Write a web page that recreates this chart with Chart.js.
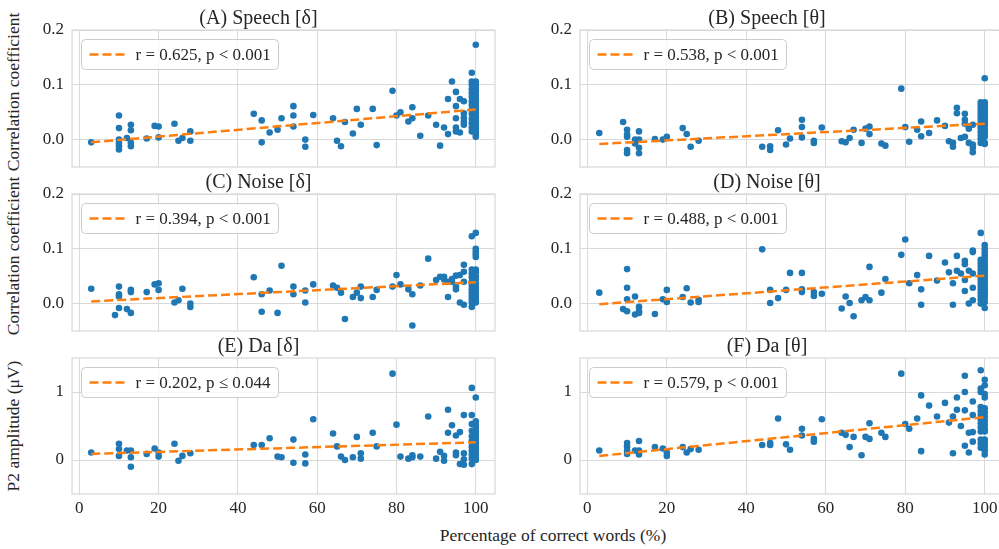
<!DOCTYPE html>
<html>
<head>
<meta charset="utf-8">
<title>P2 amplitude and envelope tracking vs. speech intelligibility</title>
<script src="https://cdn.jsdelivr.net/npm/chart.js@4.4.0/dist/chart.umd.min.js"></script>
<style>
  html, body { margin: 0; padding: 0; background: #fff; }
  #fig { position: relative; width: 999px; height: 549px; overflow: hidden; background: #fff;
         font-family: 'Liberation Serif', 'Times New Roman', serif; color: #262626; }
  #fig canvas { position: absolute; }
  .axlabel { position: absolute; white-space: nowrap; font-size: 17.5px; line-height: 1;
             transform: translate(-50%, -50%); }
  .axlabel.rot { transform: translate(-50%, -50%) rotate(-90deg); }
</style>
</head>
<body>
<div id="fig">
  <div class="axlabel rot" style="left:14px; top:92px;">Correlation coefficient</div>
  <div class="axlabel rot" style="left:14px; top:256px;">Correlation coefficient</div>
  <div class="axlabel rot" style="left:14px; top:426px;">P2 amplitude (μV)</div>
  <div class="axlabel" style="left:553px; top:536px;">Percentage of correct words (%)</div>
</div>
<script>
// ---- axis ticks and ranges ----
const xTicks = [0, 20, 40, 60, 80, 100];
const corrTicks = [0, 0.1, 0.2];
const ampTicks = [0, 1];
const xRange = [-1.85, 104.85];
const corrRange = [-0.05, 0.2];
const ampRange = [-0.5, 1.5];

// ---- regression line end points, at x = 3 and x = 100 ----
const fitX = [3, 100];
const speechDeltaFit = [-0.005, 0.055];
const speechThetaFit = [-0.008, 0.029];
const noiseDeltaFit = [0.004, 0.039];
const noiseThetaFit = [-0.001, 0.051];
const daDeltaFit = [0.09, 0.26];
const daThetaFit = [0.06, 0.63];

// ---- per-subject values: [percentage of correct words, measure] ----
const speechDelta = [
  [3,-0.005],
  [10,0.044],[10,0.021],[10,0.0],[10,-0.006],[10,-0.012],[10,-0.018],
  [12,0.003],
  [13,0.027],[13,0.017],[13,-0.006],[13,-0.012],
  [17,0.002],[19,0.025],[20,0.024],[20,0.004],[24,0.029],[25,-0.002],[26,0.003],[28,0.015],[28,-0.002],
  [44,0.047],[46,0.035],[46,-0.005],[48,0.013],[50,0.018],[51,0.039],
  [54,0.061],[54,0.044],[54,0.024],[57,0.0],[57,-0.013],[59,0.045],
  [64,0.039],[65,-0.002],[66,-0.012],[67,0.032],[69,0.011],[70,0.056],[71,0.027],[74,0.056],[75,-0.01],
  [79,0.089],[80,0.044],[81,0.05],[83,0.033],[84,0.059],[84,0.039],[86,0.007],[88,0.044],
  [90,0.027],[91,-0.011],[92,0.022],[93,0.074],[93,0.01],[94,0.106],
  [95,0.087],[95,0.061],[95,0.039],[95,0.022],[95,0.015],
  [96,0.074],[96,0.013],
  [97,0.07],[97,0.048],[97,0.04],[97,0.033],[97,0.027],
  [99,0.122],[99,0.106],[99,0.1],[99,0.092],[99,0.085],[99,0.078],[99,0.07],[99,0.063],[99,0.055],[99,0.047],[99,0.038],[99,0.03],[99,0.022],[99,0.015],
  [100,0.173],[100,0.106],[100,0.1],[100,0.095],[100,0.09],[100,0.085],[100,0.08],[100,0.075],[100,0.07],[100,0.065],[100,0.06],
  [100,0.055],[100,0.05],[100,0.045],[100,0.04],[100,0.035],[100,0.03],[100,0.025],[100,0.02],[100,0.015],[100,0.01],[100,0.005]
];

const speechTheta = [
  [3,0.012],[9,0.032],
  [10,0.018],[10,0.009],[10,0.005],[10,-0.019],[10,-0.025],
  [12,0.0],[12,-0.007],
  [13,0.015],[13,0.0],[13,-0.015],[13,-0.025],
  [17,0.001],[19,0.0],[20,0.005],[24,0.021],[25,0.01],[26,-0.013],[28,-0.002],
  [44,-0.013],[46,-0.012],[46,-0.019],[48,0.017],[50,-0.009],[51,0.002],
  [54,0.036],[54,0.023],[54,0.004],[57,-0.002],[57,-0.006],[59,0.022],
  [64,-0.003],[65,-0.005],[66,0.003],[67,0.018],[69,-0.006],[70,0.02],[71,0.024],[71,0.01],[74,-0.007],[75,-0.011],
  [79,0.093],[80,0.023],[81,-0.004],[83,0.018],[84,0.033],[84,0.006],[86,0.012],[88,0.035],
  [90,0.025],[91,-0.003],[92,-0.006],[92,-0.013],[93,0.058],[93,0.048],[94,0.003],
  [95,0.047],[95,0.036],[95,0.029],[95,0.005],
  [96,0.024],[96,0.02],[96,-0.006],
  [97,0.027],[97,-0.009],[97,-0.015],[97,-0.023],
  [99,0.068],[99,0.063],[99,0.058],[99,0.052],[99,0.047],[99,0.042],[99,0.036],[99,0.03],[99,0.025],[99,0.02],[99,0.014],[99,0.008],[99,0.002],[99,-0.006],
  [100,0.112],[100,0.068],[100,0.064],[100,0.06],[100,0.055],[100,0.05],[100,0.045],[100,0.04],[100,0.035],
  [100,0.03],[100,0.026],[100,0.02],[100,0.015],[100,0.01],[100,0.005],[100,-0.006],[100,-0.008]
];

const noiseDelta = [
  [3,0.027],[9,-0.021],
  [10,0.031],[10,0.017],[10,0.013],[10,-0.008],
  [12,-0.01],
  [13,0.025],[13,0.021],[13,-0.017],
  [17,0.021],[19,0.035],[20,0.037],[20,0.025],[24,0.002],[25,0.006],[26,0.027],[28,0.0],[28,-0.006],
  [44,0.048],[46,0.017],[46,-0.015],[48,0.024],[50,-0.017],[51,0.069],
  [54,0.031],[54,0.017],[57,0.024],[57,0.002],[59,0.035],
  [64,0.033],[65,0.029],[66,0.02],[67,-0.028],[69,0.012],[70,0.02],[71,0.031],[71,0.01],[74,0.012],[75,0.025],
  [79,0.031],[80,0.052],[81,0.035],[83,0.026],[84,0.017],[84,-0.04],[86,0.033],[88,0.082],
  [90,0.043],[91,0.049],[92,0.049],[92,0.044],[93,0.04],[93,0.012],[94,0.045],[94,0.04],
  [95,0.051],[95,0.031],[95,0.026],
  [96,0.052],[96,0.002],
  [97,0.071],[97,0.058],[97,0.04],[97,-0.002],
  [99,0.123],[99,0.062],[99,0.055],[99,0.048],[99,0.04],[99,0.033],[99,0.026],[99,0.02],[99,0.014],[99,0.008],[99,0.002],[99,-0.006],
  [100,0.129],[100,0.1],[100,0.095],[100,0.09],[100,0.085],[100,0.062],[100,0.057],[100,0.05],
  [100,0.044],[100,0.036],[100,0.03],[100,0.024],[100,0.018],[100,0.012],[100,0.006],[100,0.002]
];

const noiseTheta = [
  [3,0.02],[9,-0.01],
  [10,0.063],[10,0.029],[10,0.008],[10,-0.014],
  [12,0.013],[12,-0.02],
  [13,-0.006],[13,-0.014],[13,-0.017],
  [17,-0.019],[19,0.008],[20,0.025],[20,0.003],[24,0.012],[25,0.028],[26,0.002],[28,0.007],[28,0.003],
  [44,0.099],[46,0.025],[46,0.001],[48,0.01],[50,0.025],[51,0.056],
  [54,0.056],[54,0.026],[54,0.021],[57,0.021],[57,0.014],[59,0.018],
  [64,-0.009],[65,0.013],[66,0.001],[67,-0.023],[69,0.006],[70,0.012],[71,0.067],[71,0.006],[74,0.02],[75,0.045],
  [79,0.089],[80,0.117],[81,0.037],[83,0.052],[84,0.026],[84,-0.002],[86,0.087],[88,0.042],
  [90,0.075],[91,0.057],[92,0.037],[92,-0.002],[93,0.087],[93,0.06],[94,0.055],
  [95,0.078],[95,0.072],[95,0.043],[95,0.023],
  [96,0.06],[96,0.0],
  [97,0.097],[97,0.094],[97,0.055],[97,0.029],[97,0.006],
  [99,0.129],[99,0.08],[99,0.074],[99,0.068],[99,0.062],[99,0.056],[99,0.05],[99,0.044],[99,0.038],[99,0.032],[99,0.026],[99,0.02],[99,0.014],[99,0.008],[99,0.0],
  [100,0.107],[100,0.1],[100,0.094],[100,0.088],[100,0.082],[100,0.076],[100,0.07],[100,0.064],[100,0.058],[100,0.052],
  [100,0.046],[100,0.04],[100,0.034],[100,0.028],[100,0.022],[100,0.016],[100,0.01],[100,0.003],[100,-0.008]
];

const daDelta = [
  [3,0.11],
  [10,0.24],[10,0.16],[10,0.06],
  [12,0.14],
  [13,0.14],[13,0.04],[13,-0.1],
  [17,0.09],[19,0.17],[20,0.11],[20,0.05],[24,0.24],[25,-0.01],[26,0.06],[28,0.1],
  [44,0.22],[46,0.22],[48,0.32],[50,0.05],[51,0.04],
  [54,0.3],[54,-0.04],[57,0.08],[57,-0.05],[59,0.6],
  [64,0.39],[65,0.2],[66,0.05],[67,0.0],[69,0.04],[70,0.34],[71,0.1],[71,0.02],[74,0.4],[75,0.2],
  [79,1.27],[80,0.52],[81,0.05],[83,0.02],[84,0.07],[84,0.04],[86,0.05],[88,0.64],
  [90,0.02],[91,0.12],[92,0.06],[92,-0.01],[93,0.74],[93,0.4],[94,0.51],
  [95,0.36],[95,0.11],[95,0.07],
  [96,0.41],[96,-0.06],
  [97,0.66],[97,0.1],[97,0.01],[97,-0.07],
  [99,1.06],[99,0.66],[99,0.53],[99,0.43],[99,0.35],[99,0.28],[99,0.2],[99,0.14],[99,0.08],[99,0.02],[99,-0.06],
  [100,0.92],[100,0.57],[100,0.52],[100,0.47],[100,0.42],[100,0.37],[100,0.32],[100,0.28],
  [100,0.24],[100,0.2],[100,0.16],[100,0.12],[100,0.08],[100,0.04],[100,0.0]
];

const daTheta = [
  [3,0.14],
  [10,0.25],[10,0.2],[10,0.14],[10,0.09],
  [12,0.14],
  [13,0.28],[13,0.14],[13,0.08],
  [17,0.19],[19,0.17],[20,0.11],[20,0.06],[24,0.19],[25,0.11],[26,0.16],[28,0.15],
  [44,0.22],[46,0.25],[46,0.22],[48,0.61],[50,0.23],[51,0.15],
  [54,0.46],[54,0.36],[57,0.31],[57,0.27],[59,0.6],
  [64,0.4],[65,0.37],[66,0.19],[67,0.34],[69,0.07],[70,0.34],[71,0.54],[71,0.31],[74,0.4],[75,0.34],
  [79,1.27],[80,0.53],[81,0.46],[83,0.61],[84,0.95],[84,0.13],[86,0.8],[88,0.64],
  [90,0.84],[91,0.55],[92,0.64],[92,0.1],[93,0.92],[93,0.74],[94,0.5],
  [95,1.24],[95,1.0],[95,0.73],[95,0.21],
  [96,0.4],[96,0.11],
  [97,0.86],[97,0.66],[97,0.41],[97,0.27],
  [99,1.32],[99,1.05],[99,1.0],[99,0.78],[99,0.72],[99,0.66],[99,0.6],[99,0.54],[99,0.48],[99,0.42],[99,0.3],[99,0.24],[99,0.18],
  [100,1.18],[100,1.1],[100,0.97],[100,0.92],[100,0.76],[100,0.7],[100,0.64],[100,0.58],
  [100,0.52],[100,0.46],[100,0.42],[100,0.3],[100,0.25],[100,0.2],[100,0.14],[100,0.08]
];

// ---- panels ----
const panels = [
  { title: '(A) Speech [δ]', stat: 'r = 0.625, p < 0.001', points: speechDelta, fit: speechDeltaFit, row: 0, col: 0 },
  { title: '(B) Speech [θ]', stat: 'r = 0.538, p < 0.001', points: speechTheta, fit: speechThetaFit, row: 0, col: 1 },
  { title: '(C) Noise [δ]',  stat: 'r = 0.394, p < 0.001', points: noiseDelta,  fit: noiseDeltaFit,  row: 1, col: 0 },
  { title: '(D) Noise [θ]',  stat: 'r = 0.488, p < 0.001', points: noiseTheta,  fit: noiseThetaFit,  row: 1, col: 1 },
  { title: '(E) Da [δ]',     stat: 'r = 0.202, p ≤ 0.044', points: daDelta,     fit: daDeltaFit,     row: 2, col: 0 },
  { title: '(F) Da [θ]',     stat: 'r = 0.579, p < 0.001', points: daTheta,     fit: daThetaFit,     row: 2, col: 1 }
];

// ---- styling and grid geometry ----
const FONT = "'Liberation Serif', 'Times New Roman', serif";
const INK = '#262626';
const GRID = '#d9d9d9';
const DOT = '#1f77b4';
const FIT = '#ff7f0e';
// the right-hand column runs slightly past the page edge
const colBounds = [[72, 495], [580, 1004]];
const rowBounds = [[30, 167], [194, 331], [358, 494]];
const YW = 50, PR = 20, TH = 21, XH = 30;

// light frame around each plotting area
const framePlugin = {
  id: 'frame',
  beforeDatasetsDraw(chart) {
    const { ctx, chartArea: a } = chart;
    ctx.save();
    ctx.strokeStyle = GRID;
    ctx.lineWidth = 1.25;
    ctx.strokeRect(a.left, a.top, a.right - a.left, a.bottom - a.top);
    ctx.restore();
  }
};

// boxed key for the regression line, upper-left inside the plot
const fitLegend = {
  id: 'fitLegend',
  afterDatasetsDraw(chart) {
    const { ctx, chartArea: a } = chart;
    const ds = chart.data.datasets[0];
    ctx.save();
    ctx.font = `17px ${FONT}`;
    const tw = ctx.measureText(ds.label).width;
    const x = Math.round(a.left + 9) + 0.5, y = Math.round(a.top + 9) + 0.5;
    const w = Math.round(54 + tw + 8), h = 30;
    ctx.beginPath();
    ctx.roundRect(x, y, w, h, 4);
    ctx.fillStyle = 'rgba(255,255,255,0.8)';
    ctx.fill();
    ctx.strokeStyle = '#cccccc';
    ctx.lineWidth = 1;
    ctx.stroke();
    ctx.beginPath();
    ctx.setLineDash([9, 4]);
    ctx.strokeStyle = ds.borderColor;
    ctx.lineWidth = 2.5;
    ctx.moveTo(x + 8, y + h / 2);
    ctx.lineTo(x + 43, y + h / 2);
    ctx.stroke();
    ctx.setLineDash([]);
    ctx.fillStyle = INK;
    ctx.textBaseline = 'middle';
    ctx.textAlign = 'left';
    ctx.fillText(ds.label, x + 54, y + h / 2 + 1);
    ctx.restore();
  }
};

const fig = document.getElementById('fig');

panels.forEach(p => {
  const [L, R] = colBounds[p.col];
  const [T, B] = rowBounds[p.row];
  const isAmp = p.row === 2;
  const w = (R - L) + YW + PR;
  const h = TH + (B - T) + XH;
  const canvas = document.createElement('canvas');
  canvas.width = w; canvas.height = h;
  canvas.style.left = (L - YW) + 'px';
  canvas.style.top = (T - TH) + 'px';
  canvas.style.width = w + 'px';
  canvas.style.height = h + 'px';
  fig.appendChild(canvas);

  const yTicks = isAmp ? ampTicks : corrTicks;
  const yRange = isAmp ? ampRange : corrRange;

  new Chart(canvas, {
    type: 'scatter',
    data: {
      datasets: [
        {
          label: p.stat,
          data: fitX.map((x, i) => ({ x, y: p.fit[i] })),
          showLine: true,
          borderColor: FIT,
          borderWidth: 2.5,
          borderDash: [9, 4],
          pointRadius: 0,
          pointHoverRadius: 0,
          fill: false
        },
        {
          label: 'subjects',
          data: p.points.map(([x, y]) => ({ x, y })),
          backgroundColor: DOT,
          borderColor: DOT,
          borderWidth: 0,
          pointRadius: 3.3,
          pointHoverRadius: 3.3
        }
      ]
    },
    options: {
      responsive: false,
      animation: false,
      devicePixelRatio: 1,
      events: [],
      layout: { padding: { left: 0, right: PR, top: 0, bottom: 0 } },
      plugins: {
        legend: { display: false },
        tooltip: { enabled: false },
        title: {
          display: true,
          text: p.title,
          color: INK,
          font: { family: FONT, size: 20, weight: 'normal', lineHeight: 1 },
          padding: { top: 0, bottom: 1 }
        }
      },
      scales: {
        x: {
          type: 'linear',
          min: xRange[0],
          max: xRange[1],
          afterBuildTicks: ax => { ax.ticks = xTicks.map(v => ({ value: v })); },
          afterFit: ax => { ax.height = XH; },
          grid: { color: GRID, lineWidth: 1, drawTicks: false },
          border: { display: false },
          ticks: {
            display: isAmp,
            color: INK,
            font: { family: FONT, size: 17 },
            padding: 4,
            callback: v => String(v)
          }
        },
        y: {
          type: 'linear',
          min: yRange[0],
          max: yRange[1],
          afterBuildTicks: ax => { ax.ticks = yTicks.map(v => ({ value: v })); },
          afterFit: ax => { ax.width = YW; },
          grid: { color: GRID, lineWidth: 1, drawTicks: false },
          border: { display: false },
          ticks: {
            color: INK,
            font: { family: FONT, size: 17 },
            padding: 8,
            callback: v => isAmp ? String(v) : v.toFixed(1)
          }
        }
      }
    },
    plugins: [framePlugin, fitLegend]
  });
});
</script>
</body>
</html>
